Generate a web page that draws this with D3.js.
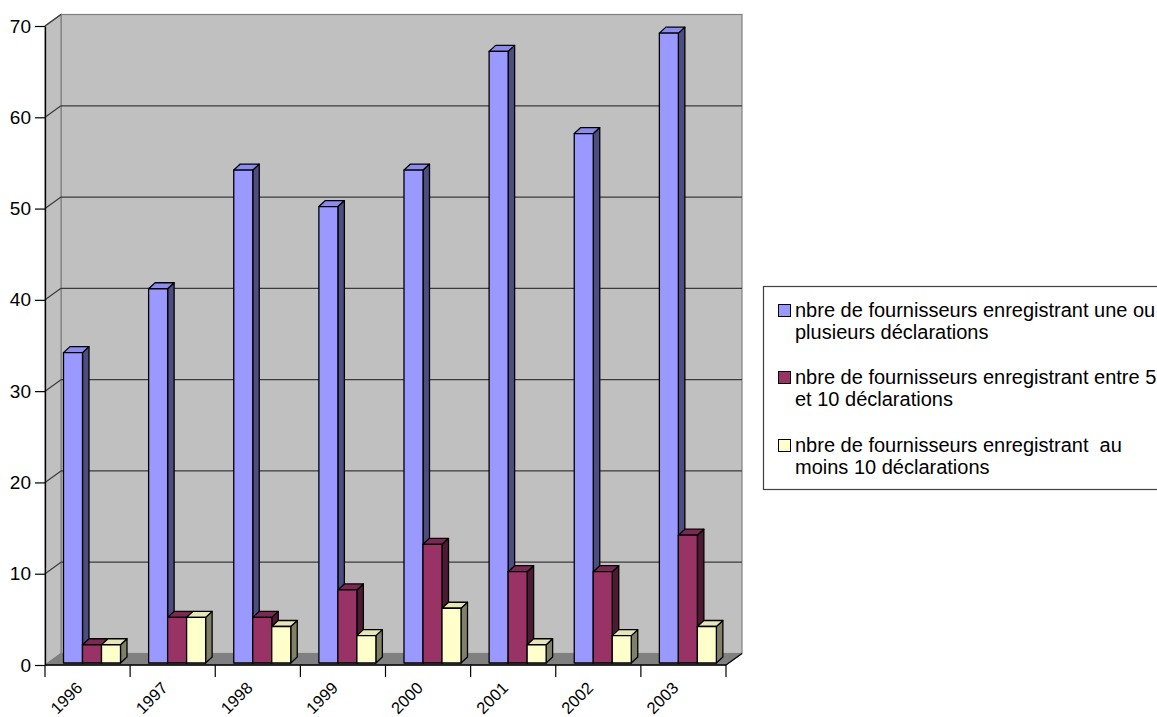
<!DOCTYPE html>
<html>
<head>
<meta charset="utf-8">
<script src="https://cdn.jsdelivr.net/npm/d3@7/dist/d3.min.js"></script>
<style>
  html, body { margin: 0; padding: 0; background: #ffffff; }
  svg { display: block; font-family: "Liberation Sans", Arial, sans-serif; }
  text { white-space: pre; }
</style>
</head>
<body>
<svg id="chart" width="1157" height="717"></svg>
<script>
// Years on the category axis
const years = ["1996", "1997", "1998", "1999", "2000", "2001", "2002", "2003"];

// Series values per year
const uneOuPlusieurs = [34, 41, 54, 50, 54, 67, 58, 69];
const entre5et10 = [2, 5, 5, 8, 13, 10, 10, 14];
const auMoins10 = [2, 5, 4, 3, 6, 2, 3, 4];

// Series names (legend lines)
const seriesNames = [
  ["nbre de fournisseurs enregistrant une ou", "plusieurs déclarations"],
  ["nbre de fournisseurs enregistrant entre 5", "et 10 déclarations"],
  ["nbre de fournisseurs enregistrant  au", "moins 10 déclarations"]
];

// Value axis ticks
const yTicks = [0, 10, 20, 30, 40, 50, 60, 70];

const seriesValues = [uneOuPlusieurs, entre5et10, auMoins10];
const faceColors = [
  { front: "#9999ff", top: "#8c8cec", side: "#4d4d80" },
  { front: "#993366", top: "#7a2952", side: "#4d1a33" },
  { front: "#ffffcc", top: "#e6e6b8", side: "#808066" }
];

const svg = d3.select("#chart");

// Plot geometry
const plotLeft = 45, plotRight = 726, plotBottom = 665, plotTop = 26;
const depthX = 16, depthY = -11.5;     // wall/floor depth offset
const barDX = 6.5, barDY = -6;          // bar depth offset

const x = d3.scaleBand().domain(years).range([plotLeft, plotRight]).paddingInner(0).paddingOuter(0);
const y = d3.scaleLinear().domain([0, 70]).range([plotBottom, plotTop]);
const xs = d3.scaleBand().domain([0, 1, 2]).range([18.5, 18.5 + 57]);

const g = svg.append("g");

// Back wall
g.append("rect")
  .attr("x", plotLeft + depthX).attr("y", y(70) + depthY)
  .attr("width", plotRight - plotLeft).attr("height", y(0) - y(70))
  .attr("fill", "#c0c0c0").attr("stroke", "#808080").attr("stroke-width", 1.2);

// Left wall
g.append("path")
  .attr("d", `M${plotLeft},${y(70)} L${plotLeft + depthX},${y(70) + depthY} L${plotLeft + depthX},${y(0) + depthY} L${plotLeft},${y(0)} Z`)
  .attr("fill", "#c0c0c0").attr("stroke", "#808080").attr("stroke-width", 1.2);

// Floor
g.append("path")
  .attr("d", `M${plotLeft},${y(0)} L${plotLeft + depthX},${y(0) + depthY} L${plotRight + depthX},${y(0) + depthY} L${plotRight},${y(0)} Z`)
  .attr("fill", "#808080").attr("stroke", "#808080").attr("stroke-width", 1);

// Gridlines on back and left walls
const grid = g.append("g");
yTicks.filter(v => v > 0).forEach(v => {
  const yb = y(v) + depthY;
  if (v < 70) {
    grid.append("line")
      .attr("x1", plotLeft + depthX).attr("x2", plotRight + depthX)
      .attr("y1", yb).attr("y2", yb)
      .attr("stroke", "#3a3a3a").attr("stroke-width", 1.2);
  }
  grid.append("line")
    .attr("x1", plotLeft).attr("y1", y(v))
    .attr("x2", plotLeft + depthX).attr("y2", yb)
    .attr("stroke", "#3a3a3a").attr("stroke-width", 1.2);
});

// Bars (front, side and top faces)
const bars = g.append("g").attr("stroke", "#000").attr("stroke-width", 1.3).attr("stroke-linejoin", "round");
years.forEach((yr, i) => {
  seriesValues.forEach((vals, s) => {
    const v = vals[i];
    const x0 = x(yr) + xs(s);
    const x1 = x0 + xs.bandwidth();
    const y0 = y(0) - 2;
    const y1 = y(v) - 2;
    const c = faceColors[s];
    bars.append("path")
      .attr("d", `M${x1},${y0} L${x1 + barDX},${y0 + barDY} L${x1 + barDX},${y1 + barDY} L${x1},${y1} Z`)
      .attr("fill", c.side);
    bars.append("path")
      .attr("d", `M${x0},${y1} L${x0 + barDX},${y1 + barDY} L${x1 + barDX},${y1 + barDY} L${x1},${y1} Z`)
      .attr("fill", c.top);
    bars.append("rect")
      .attr("x", x0).attr("y", y1)
      .attr("width", x1 - x0).attr("height", y0 - y1)
      .attr("fill", c.front);
  });
});

// Value axis
const yAxis = d3.axisLeft(y).tickValues(yTicks).tickSize(10).tickSizeOuter(0).tickPadding(4);
const ya = svg.append("g").attr("transform", `translate(${plotLeft},0)`).call(yAxis);
ya.select(".domain").attr("stroke", "#000").attr("stroke-width", 1.3);
ya.selectAll(".tick line").attr("stroke", "#000").attr("stroke-width", 1.2);
ya.selectAll(".tick text")
  .attr("font-size", 19).attr("fill", "#000")
  .attr("font-family", "'Liberation Sans', Arial, sans-serif");

// Category axis: baseline, boundary ticks and rotated labels
const xa = svg.append("g");
xa.append("line")
  .attr("x1", plotLeft).attr("x2", plotRight).attr("y1", plotBottom).attr("y2", plotBottom)
  .attr("stroke", "#000").attr("stroke-width", 1.3);
const bounds = years.map(d => x(d)).concat([x(years[years.length - 1]) + x.bandwidth()]);
xa.selectAll("line.tick").data(bounds).enter().append("line")
  .attr("class", "tick")
  .attr("x1", d => d).attr("x2", d => d)
  .attr("y1", plotBottom).attr("y2", plotBottom + 12)
  .attr("stroke", "#000").attr("stroke-width", 1.2);
// right floor edge
xa.append("line")
  .attr("x1", plotRight).attr("y1", plotBottom).attr("x2", plotRight + depthX).attr("y2", plotBottom + depthY)
  .attr("stroke", "#000").attr("stroke-width", 1.2);
xa.selectAll("text").data(years).enter().append("text")
  .attr("transform", d => `translate(${x(d) + x.bandwidth() / 2 - 4},${plotBottom + 24}) rotate(-45)`)
  .attr("text-anchor", "end")
  .attr("font-size", 16.5)
  .attr("fill", "#000")
  .text(d => d);

// Legend
const lg = svg.append("g");
lg.append("rect")
  .attr("x", 763.5).attr("y", 286.5).attr("width", 420).attr("height", 203)
  .attr("fill", "#fff").attr("stroke", "#404040").attr("stroke-width", 1.2);
const entryY = [317, 384, 452];
seriesNames.forEach((lines, s) => {
  lg.append("rect")
    .attr("x", 778.5).attr("y", entryY[s] - 12.5).attr("width", 12).attr("height", 12)
    .attr("fill", faceColors[s].front).attr("stroke", "#000").attr("stroke-width", 1);
  lines.forEach((t, k) => {
    lg.append("text")
      .attr("x", 795).attr("y", entryY[s] + k * 22)
      .attr("font-size", 20).attr("fill", "#000")
      .text(t);
  });
});
</script>
</body>
</html>
